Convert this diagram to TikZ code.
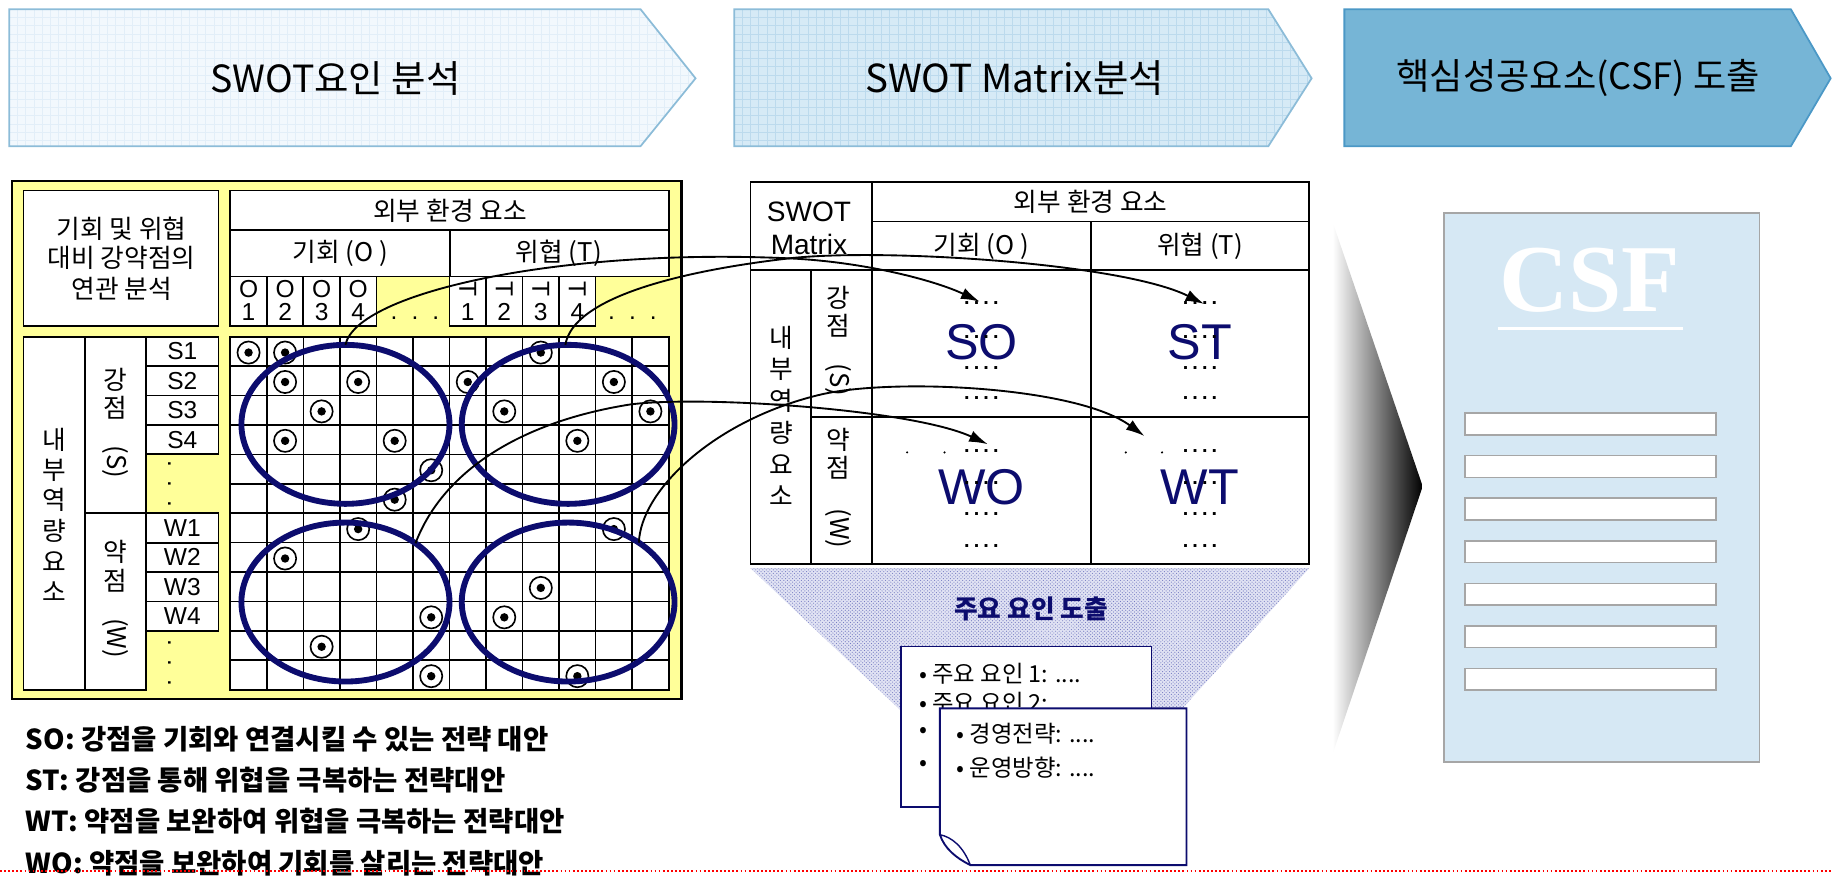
\documentclass[tikz,border=0pt]{standalone}
\usepackage{fontspec}
\setmainfont{Noto Sans CJK KR}
\newfontfamily\arialf{Liberation Sans}
\newfontfamily\timesf{Liberation Serif}
\usetikzlibrary{arrows.meta,patterns,shapes.geometric}
\newcommand\myfs[1]{\fontsize{#1}{#1}\selectfont}
\definecolor{navy}{RGB}{12,12,110}
\definecolor{pyel}{RGB}{255,255,153}
\definecolor{hfa}{RGB}{242,248,253}
\definecolor{hga}{RGB}{226,238,248}
\definecolor{hfb}{RGB}{214,234,246}
\definecolor{hgb}{RGB}{188,218,237}
\definecolor{hfc}{RGB}{118,181,214}
\definecolor{hbd}{RGB}{140,188,216}
\definecolor{hbc}{RGB}{75,152,198}
\definecolor{csfbg}{RGB}{214,232,244}
\definecolor{gbar}{RGB}{166,166,166}
\definecolor{lav}{RGB}{224,226,243}
\definecolor{lavdot}{RGB}{120,125,195}
\begin{document}
\begin{tikzpicture}[x=1pt,y=-1pt,
  tb/.style={draw=black,line width=1.5pt,fill=white},
  tt/.style={inner sep=0pt,font=\myfs{22}},
  lt/.style={inner sep=0pt,font=\arialf\myfs{21}},
  mk/.style={draw=black,line width=1.4pt,fill=white},
  conn/.style={draw=black,line width=1.6pt,-{Latex[length=16pt,width=10pt]}},
  ell/.style={ellipse,draw=navy,line width=5pt,inner sep=0pt,outer sep=0pt},
  dts/.style={inner sep=0pt,font=\arialf\bfseries\myfs{17}},
  big/.style={inner sep=0pt,text=navy,font=\arialf\myfs{43}},
  bt/.style={inner sep=0pt,anchor=west,font=\myfs{20}},
  bot/.style={inner sep=0pt,anchor=west,font=\bfseries\myfs{23.5}},
]
\useasboundingbox (0,0) rectangle (1568,750);

% ---------- header arrows ----------
\fill[hfa] (8,8) -- (548,8) -- (595,67) -- (548,125) -- (8,125) -- cycle;
\begin{scope}
\clip (8,8) -- (548,8) -- (595,67) -- (548,125) -- (8,125) -- cycle;
\foreach \x in {8,15,...,600} \draw[hga,line width=0.5pt] (\x,8) -- (\x,125);
\foreach \y in {8,15,...,125} \draw[hga,line width=0.5pt] (8,\y) -- (600,\y);
\end{scope}
\draw[hbd,line width=1.5pt] (8,8) -- (548,8) -- (595,67) -- (548,125) -- (8,125) -- cycle;
\node[inner sep=0pt,font=\myfs{32}] (h1) at (287,67) {SWOT요인 분석};

\fill[hfb] (628,8) -- (1085,8) -- (1122,67) -- (1085,125) -- (628,125) -- cycle;
\begin{scope}
\clip (628,8) -- (1085,8) -- (1122,67) -- (1085,125) -- (628,125) -- cycle;
\foreach \x in {628,635,...,1125} \draw[hgb,line width=0.5pt] (\x,8) -- (\x,125);
\foreach \y in {8,15,...,125} \draw[hgb,line width=0.5pt] (628,\y) -- (1125,\y);
\end{scope}
\draw[hbd,line width=1.5pt] (628,8) -- (1085,8) -- (1122,67) -- (1085,125) -- (628,125) -- cycle;
\node[inner sep=0pt,font=\myfs{33}] (h2) at (868,67) {SWOT Matrix분석};

\draw[hbc,line width=1.5pt,fill=hfc] (1150,8) -- (1532,8) -- (1566,67) -- (1532,125) -- (1150,125) -- cycle;
\node[inner sep=0pt,font=\myfs{31}] (h3) at (1350,67) {핵심성공요소(CSF) 도출};

% ---------- left panel ----------
\draw[line width=1.8pt,fill=pyel] (10,155) rectangle (583,598);
\draw[tb] (20,163) rectangle (187,279);
\node[tt] (ta1) at (104,196) {기회 및 위협};
\node[tt] (ta2) at (104,221) {대비 강약점의};
\node[tt] (ta3) at (104,247) {연관 분석};
\draw[tb] (197,163) rectangle (572,197);
\draw[tb] (197,197) rectangle (385,236.5);
\draw[tb] (385,197) rectangle (572,236.5);
\node[tt] (lext) at (385,180) {외부 환경 요소};
\node[tt] (lo) at (291,217) {기회 (O )};
\node[tt] (ltt) at (478,217) {위협 (T)};
\foreach \i in {1,...,4} {
  \draw[tb] ({197+31.25*(\i-1)},236.5) rectangle ({197+31.25*\i},279);
  \node[lt] (oh\i) at ({197+31.25*(\i-0.5)},247) {O};
  \node[lt] (on\i) at ({197+31.25*(\i-0.5)},267) {\i};
  \draw[tb] ({197+31.25*(\i+5)},236.5) rectangle ({197+31.25*(\i+6)},279);
  \node[lt,rotate=-90] (th\i) at ({197+31.25*(\i+5.5)},247) {T};
  \node[lt] (tn\i) at ({197+31.25*(\i+5.5)},267) {\i};
}
\node[lt] (ldo) at (355,272) {.\hspace{12pt}.\hspace{12pt}.};
\node[lt] (ldt) at (541,272) {.\hspace{12pt}.\hspace{12pt}.};

\draw[tb] (20,288) rectangle (73,590);
\draw[tb] (73,288) rectangle (125,439);
\draw[tb] (73,439) rectangle (125,590);
\foreach \k in {1,...,4} {
  \draw[tb] (125,{288+25.1667*(\k-1)}) rectangle (187,{288+25.1667*\k});
  \node[lt] (sl\k) at (156,{288+25.1667*(\k-0.5)}) {S\k};
  \draw[tb] (125,{288+25.1667*(\k+5)}) rectangle (187,{288+25.1667*(\k+6)});
  \node[lt] (wl\k) at (156,{288+25.1667*(\k+5.5)}) {W\k};
}
\node[lt,rotate=-90] (sdots) at (145,414) {.\hspace{11pt}.\hspace{11pt}.};
\node[lt,rotate=-90] (wdots) at (145,567) {.\hspace{11pt}.\hspace{11pt}.};
\foreach \ch [count=\i] in {내,부,역,량,요,소}
  \node[tt] (li\i) at (46.5,{376+26*(\i-1)}) {\ch};
\node[tt] (ls1) at (99,325) {강};
\node[tt] (ls2) at (99,349) {점};
\node[tt,rotate=-90] (ls3) at (99,395) {(S)};
\node[tt] (lw1) at (99,472) {약};
\node[tt] (lw2) at (99,497) {점};
\node[tt,rotate=-90] (lw3) at (99,546) {(W)};

% grid
\draw[tb] (197,288) rectangle (572,590);
\foreach \c in {1,...,11} \draw[line width=1.4pt] ({197+31.25*\c},288) -- ({197+31.25*\c},590);
\foreach \r in {1,...,11} \draw[line width=1.4pt] (197,{288+25.1667*\r}) -- (572,{288+25.1667*\r});
\foreach \r/\c in {1/1,1/2,1/9,2/2,2/4,2/7,2/11,3/3,3/8,3/12,4/2,4/5,4/10,5/6,6/5,7/4,7/11,8/2,9/9,10/6,10/8,11/3,12/6,12/10} {
  \draw[mk] ({197+31.25*(\c-0.5)},{288+25.1667*(\r-0.5)+1}) circle[radius=9.5pt];
  \fill ({197+31.25*(\c-0.5)},{288+25.1667*(\r-0.5)+1}) circle[radius=3.6pt];
}
\node[ell,minimum width=178pt,minimum height=136pt] (eSO) at (295.5,363) {};
\node[ell,minimum width=182pt,minimum height=136pt] (eST) at (486,363) {};
\node[ell,minimum width=178pt,minimum height=136pt] (eWO) at (295.5,515) {};
\node[ell,minimum width=182pt,minimum height=136pt] (eWT) at (486,515) {};

% ---------- middle ----------
\fill[lav] (642,486) -- (1120,486) -- (1006,612) -- (775,612) -- cycle;
\fill[pattern=crosshatch dots,pattern color=lavdot] (642,486) -- (1120,486) -- (1006,612) -- (775,612) -- cycle;
\draw[line width=1.6pt,fill=white] (642,156) rectangle (1120,482.5);
\draw[line width=1.5pt] (746,156) -- (746,482.5) (746,189.5) -- (1120,189.5) (642,231) -- (1120,231)
  (933,189.5) -- (933,482.5) (694,231) -- (694,482.5) (694,357) -- (1120,357);
\node[inner sep=0pt,font=\arialf\myfs{24}] (mswot) at (692,181) {SWOT};
\node[inner sep=0pt,font=\arialf\myfs{24}] (mmat) at (692,209) {Matrix};
\node[tt] (mext) at (933,173) {외부 환경 요소};
\node[tt] (mo) at (839.5,211) {기회 (O )};
\node[tt] (mt) at (1026.5,211) {위협 (T)};
\foreach \ch [count=\i] in {내,부,역,량,요,소}
  \node[tt] (mi\i) at (668,{289+27*(\i-1)}) {\ch};
\node[tt] (ms1) at (717,255) {강};
\node[tt] (ms2) at (717,279) {점};
\node[tt,rotate=-90] (ms3) at (717,325) {(S)};
\node[tt] (mw1) at (717,376) {약};
\node[tt] (mw2) at (717,400) {점};
\node[tt,rotate=-90] (mw3) at (717,452) {(W)};

\node[big] (so) at (839.5,293) {SO};
\node[big] (st) at (1026.5,293) {ST};
\node[big] (wo) at (839.5,417) {WO};
\node[big] (wt) at (1026.5,417) {WT};
\foreach \cx/\nm in {839.5/a,1026.5/b} {
  \foreach \yy [count=\j] in {259,288,315,340.5,386,413,440,467}
    \node[dts] (d\nm\j) at (\cx,\yy) {.\hspace{3.5pt}.\hspace{3.5pt}.\hspace{3.5pt}.};
}
\foreach \xx in {776,808,963,994} \fill (\xx,387) circle[radius=1pt];

\coordinate (aSO) at (838,258);
\coordinate (aST) at (1030,260);
\coordinate (aWO) at (845,380);
\coordinate (aWT) at (979,373);

% ---------- bottom middle boxes ----------
\node[inner sep=0pt,text=navy,font=\bfseries\myfs{22}] (kf) at (882,521) {주요 요인 도출};
\draw[navy,line width=1.6pt,fill=white] (771,553) rectangle (985,690);
\node[bt] (b1) at (786,576) {• 주요 요인 1: ....};
\node[bt] (b2) at (786,601) {• 주요 요인 2: ....};
\node[bt] (b3) at (786,627) {•};
\node[bt] (b4) at (786,655) {•};
\draw[navy,line width=1.6pt,fill=white] (804,606) -- (1015,606) -- (1015,740) -- (830,740)
  .. controls (818,734) and (808,726) .. (804,714) -- cycle;
\draw[navy,line width=1.2pt] (804,714) .. controls (814,716) and (824,724) .. (830,740);
\node[bt] (c1) at (818,628) {• 경영전략: ....};
\node[bt] (c2) at (818,657) {• 운영방향: ....};

% ---------- connectors ----------
\draw[conn] (eSO.90) .. controls (305,250) and (480,212) .. (675,221) .. controls (740,224) and (800,240) .. (aSO);
\draw[conn] (eST.92) .. controls (490,255) and (580,232) .. (675,221) .. controls (755,212) and (960,225) .. (aST);
\draw[conn] (eWO.40) .. controls (380,400) and (450,360) .. (539,346) .. controls (600,338) and (780,350) .. (aWO);
\draw[conn] (eWT.40) .. controls (548,420) and (610,360) .. (700,338) .. controls (760,323) and (920,330) .. (aWT);

% ---------- right ----------
\shade[left color=white,right color=black] (1140,190) -- (1217,416) -- (1140,645) -- cycle;
\draw[gbar,line width=1.5pt,fill=csfbg] (1235,182) rectangle (1505,652);
\node[inner sep=0pt,text=white,font=\timesf\bfseries\myfs{82}] (csf) at (1360,240) {CSF};
\draw[white,line width=2.5pt] (1281,281) -- (1440,281);
\foreach \k in {0,...,6}
  \draw[gbar,line width=1.3pt,fill=white] (1253,{353.4+36.4*\k}) rectangle (1468,{371.9+36.4*\k});

% ---------- bottom text ----------
\node[bot] (t1) at (22,632) {SO: 강점을 기회와 연결시킬 수 있는 전략 대안};
\node[bot] (t2) at (22,667) {ST: 강점을 통해 위협을 극복하는 전략대안};
\node[bot] (t3) at (22,702) {WT: 약점을 보완하여 위협을 극복하는 전략대안};
\node[bot] (t4) at (22,738) {WO: 약점을 보완하여 기회를 살리는 전략대안};
\draw[red,line width=1.5pt,dash pattern=on 1.5pt off 2pt] (0,745) -- (1568,745);
\end{tikzpicture}
\end{document}
